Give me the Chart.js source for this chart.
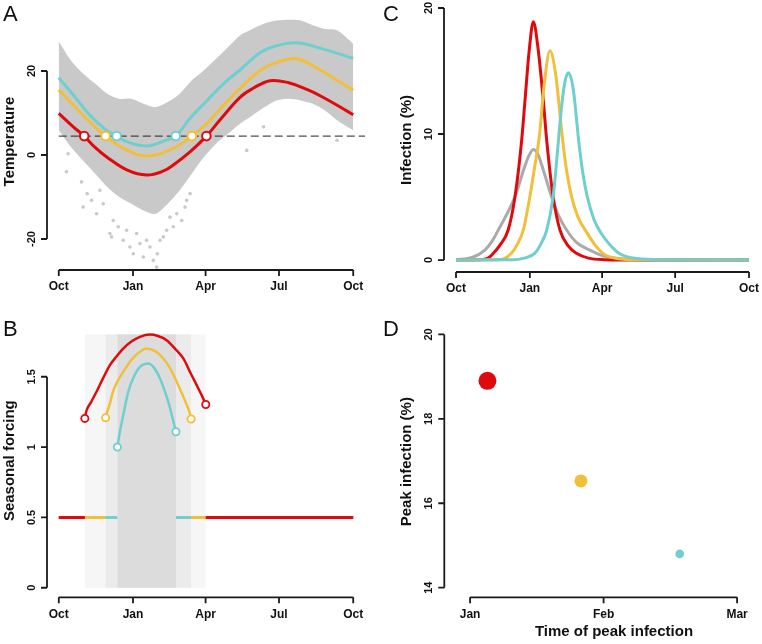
<!DOCTYPE html>
<html>
<head>
<meta charset="utf-8">
<script src="https://cdn.jsdelivr.net/npm/chart.js@4.4.1/dist/chart.umd.min.js"></script>
<style>
html, body { margin: 0; padding: 0; background: #fff; }
#wrap { position: relative; width: 762px; height: 644px; }
#wrap canvas { position: absolute; left: 0; top: 0; }
</style>
</head>
<body>
<div id="wrap">
<canvas id="panelA" width="762" height="644"></canvas>
<canvas id="panelB" width="762" height="644"></canvas>
<canvas id="panelC" width="762" height="644"></canvas>
<canvas id="panelD" width="762" height="644"></canvas>
</div>
<script>
// days are counted from 1 October
var monthTicks = [0, 92, 182, 273, 365];
var monthLabels = ['Oct', 'Jan', 'Apr', 'Jul', 'Oct'];

// A: spread of daily temperatures (dense part) and a few stray days
var cloudDay  = [0, 15, 30, 45, 60, 75, 90, 105, 120, 135, 150, 165, 180, 195, 210, 225, 240, 255, 270, 285, 300, 315, 330, 345, 365];
var cloudHigh = [27, 22.5, 19.4, 17, 14.6, 13.4, 13.4, 12.2, 11.4, 12.6, 14.6, 17.8, 20.2, 22.9, 25.7, 28.5, 30, 31.3, 32, 32.2, 32, 30.9, 30, 29.7, 26.5];
var cloudLow  = [5.9, 1.9, -1.3, -4.4, -7.6, -10, -11.6, -13.2, -14, -11.6, -8.4, -4.4, -0.5, 2.7, 5.1, 7.5, 9.4, 11.4, 13, 13.4, 13, 12.2, 10.6, 8.3, 5.9];
var strayDay  = [9.5, 11.6, 28.2, 30.2, 35.2, 40.6, 46.8, 50.9, 55.1, 63.4, 65.4, 67.5, 73.7, 79.9, 84.1, 88.2, 92.3, 96.5, 100.6, 104.8, 108.9, 113, 117.2, 121.3, 122.2, 125.5, 129.6, 133.7, 137.9, 142, 146.2, 152.4, 156.5, 158.6, 162.7, 233, 253.8, 340.8, 345];
var strayTemp = [-4, 0.3, -6.4, -12.4, -9.2, -10.8, -14, -8.4, -11.6, -18.7, -19.5, -15.6, -17.1, -20.3, -17.9, -21.9, -23.5, -18.7, -21.1, -24.3, -20.3, -21.9, -25.1, -26.7, -23.5, -20.3, -19.5, -17.9, -14.8, -17.1, -14, -15.6, -12.4, -10.8, -9.2, 1.1, 6.7, 9.8, 3.5];

var threshold = 4.5;
var redTempDay = [0, 18, 31.5, 45, 59, 85, 109, 130, 142, 163, 183, 200, 225, 241, 262, 285, 307.6, 328, 353, 365];
var redTemp    = [9.9, 6.7, 4.5, 1.8, -0.4, -3.6, -4.76, -3.8, -2.4, 0.8, 4.5, 8.4, 13.8, 15.9, 17.7, 17.2, 15.6, 13.7, 10.95, 9.6];
var yellowTempDay = [0, 18, 40, 58, 80, 109, 142, 165, 183.5, 205, 225, 250, 270, 295, 328, 345, 365];
var yellowTemp    = [15.5, 11.9, 7.6, 4.5, 1.6, -0.24, 1.6, 4.5, 7.5, 12, 15.9, 20.2, 22, 22.9, 19.8, 17.8, 15.4];
var cyanTempDay = [0, 18, 38.5, 59, 71.7, 84, 109, 134, 145, 163, 183, 205, 225, 250, 270, 295, 328, 365];
var cyanTemp    = [18.4, 14.3, 9.5, 5.9, 4.5, 3.2, 2.14, 3.6, 4.5, 8.8, 12.8, 17.1, 20.3, 24.4, 26, 26.7, 25.2, 23.0];
var redCross = [31.5, 183];
var yellowCross = [58, 165];
var cyanCross = [71.7, 145];

// B: seasonal forcing
var baseForcing = 0.5;
var redWindow = [32.3, 182.2];
var yellowWindow = [58, 164];
var cyanWindow = [72.6, 145.3];
var bandTop = 1.8;
var redArcDay = [32.3, 34.4, 40, 46.8, 55, 63.4, 71, 79.9, 90, 100.6, 113, 123, 133.7, 144, 154.4, 163, 171, 177, 182.2];
var redArc    = [1.204, 1.26, 1.32, 1.393, 1.49, 1.583, 1.64, 1.70, 1.75, 1.784, 1.80, 1.79, 1.76, 1.70, 1.63, 1.53, 1.44, 1.37, 1.303];
var yellowArcDay = [58, 60, 63.4, 67.1, 73, 79.9, 90, 100.6, 108.9, 120, 129.6, 138, 146.2, 152, 158.6, 162, 164];
var yellowArc    = [1.208, 1.25, 1.31, 1.393, 1.47, 1.535, 1.62, 1.677, 1.70, 1.68, 1.63, 1.56, 1.464, 1.39, 1.30, 1.25, 1.2];
var cyanArcDay = [72.6, 74, 75, 80, 86.1, 93, 100.6, 111, 118, 125.5, 130, 135.8, 140, 143, 145.3];
var cyanArc    = [1.0, 1.05, 1.085, 1.23, 1.393, 1.50, 1.571, 1.595, 1.565, 1.488, 1.42, 1.322, 1.23, 1.16, 1.109];

// C: infection curves (%)
var greyInfDay = [0, 20, 36, 45, 52.7, 63, 73.5, 85, 91, 96.3, 102, 107, 119, 128, 137.8, 150, 166.8, 185, 210, 240, 365];
var greyInf    = [0.02, 0.2, 0.79, 1.5, 2.38, 3.6, 5.03, 7.3, 8.3, 8.78, 8.4, 7.5, 5.03, 3.5, 2.38, 1.4, 0.79, 0.3, 0.08, 0.02, 0];
var redInfDay = [0, 30, 40, 46.5, 55, 65, 73.5, 81.8, 86, 91, 96.3, 102, 108.7, 113, 121, 129.5, 140, 150, 165, 185, 220, 365];
var redInf    = [0, 0.02, 0.15, 0.53, 1.2, 2.38, 5.03, 9.5, 12.7, 16.5, 18.9, 16.9, 12.7, 9.5, 5.03, 2.38, 1.1, 0.53, 0.15, 0.03, 0, 0];
var yellowInfDay = [0, 50, 60, 69, 76, 83.8, 92, 98, 103.8, 110, 117, 124, 132.9, 138, 144, 152, 162.8, 172, 183, 200, 230, 365];
var yellowInf    = [0, 0.02, 0.1, 0.53, 1.2, 2.38, 5.03, 7.4, 9.8, 14.0, 16.6, 14.8, 9.5, 7.0, 5.03, 3.4, 2.2, 1.3, 0.53, 0.12, 0.02, 0];
var cyanInfDay = [0, 70, 85, 98, 106, 113, 121, 126, 130, 135, 140, 146, 152.8, 158, 163.5, 172, 181, 192, 204, 225, 260, 365];
var cyanInf    = [0, 0.02, 0.15, 0.53, 1.3, 2.38, 5.03, 8.3, 11.2, 13.9, 14.87, 13.6, 9.5, 6.9, 5.03, 3.2, 2.1, 1.2, 0.5, 0.12, 0.02, 0];

// D: time (months after 1 Jan) and size of the peak
var peakMonth = [0.13, 0.83, 1.57];
var peakValue = [18.9, 16.53, 14.8];
var dotRadius = [9, 6.5, 4.3];

var RED = '#df0a0e', YELLOW = '#f2bf3b', CYAN = '#6fcfcf', GREY = '#aaaaaa', CLOUD = '#c9c9c9';
var FONT = '"Liberation Sans", Arial, Helvetica, sans-serif';

function xy(xs, ys) {
    return xs.map(function (x, i) { return { x: x, y: ys[i] }; });
}

// flat 0.5 line outside a forcing window, with a gap inside it
function flat(win) {
    return [{ x: 0, y: baseForcing }, { x: win[0], y: baseForcing }, { x: (win[0] + win[1]) / 2, y: null },
            { x: win[1], y: baseForcing }, { x: 365, y: baseForcing }];
}

function curve(data, color, width, order, smooth) {
    var ds = { data: data, borderColor: color, borderWidth: width, pointRadius: 0, fill: false, order: order };
    if (smooth) ds.tension = smooth; else ds.cubicInterpolationMode = 'monotone';
    return ds;
}

function ends(data, color, order) {
    var last = data.length - 1;
    return { data: data, borderColor: color, borderWidth: 2.5, cubicInterpolationMode: 'monotone', fill: false, order: order,
             pointRadius: function (c) { return (c.dataIndex === 0 || c.dataIndex === last) ? 3.6 : 0; },
             pointBackgroundColor: '#fff', pointBorderColor: color, pointBorderWidth: 1.8 };
}

function marks(days, color) {
    return { data: days.map(function (d) { return { x: d, y: threshold }; }), showLine: false, order: 1,
             pointRadius: 4.3, pointBackgroundColor: '#fff', pointBorderColor: color, pointBorderWidth: 2 };
}

function baseOptions(pad, xr, yr) {
    return {
        responsive: false, animation: false, devicePixelRatio: 1, events: [],
        layout: { padding: pad },
        plugins: { legend: { display: false }, tooltip: { enabled: false } },
        scales: {
            x: { type: 'linear', min: xr[0], max: xr[1], display: false },
            y: { type: 'linear', min: yr[0], max: yr[1], display: false }
        }
    };
}

// R style axes: line only between first and last tick, rotated y labels
function rAxes(o) {
    return {
        id: 'rAxes',
        afterDraw: function (chart) {
            var ctx = chart.ctx, a = chart.chartArea;
            var sx = chart.scales.x, sy = chart.scales.y;
            var xs = o.xTicks.map(function (v) { return sx.getPixelForValue(v); });
            var ys = o.yTicks.map(function (v) { return sy.getPixelForValue(v); });
            ctx.save();
            ctx.strokeStyle = '#1a1a1a';
            ctx.fillStyle = '#111';
            ctx.lineWidth = 1.8;
            ctx.beginPath();
            ctx.moveTo(xs[0], a.bottom); ctx.lineTo(xs[xs.length - 1], a.bottom);
            xs.forEach(function (px) { ctx.moveTo(px, a.bottom); ctx.lineTo(px, a.bottom + 6); });
            ctx.moveTo(a.left, ys[0]); ctx.lineTo(a.left, ys[ys.length - 1]);
            ys.forEach(function (py) { ctx.moveTo(a.left, py); ctx.lineTo(a.left - 6, py); });
            ctx.stroke();

            ctx.textAlign = 'center';
            ctx.textBaseline = 'middle';
            ctx.font = 'bold 12px ' + FONT;
            xs.forEach(function (px, i) { ctx.fillText(o.xLabels[i], px, a.bottom + 17); });
            ctx.font = 'bold 11px ' + FONT;
            ys.forEach(function (py, i) {
                ctx.save(); ctx.translate(a.left - 15, py); ctx.rotate(-Math.PI / 2);
                ctx.fillText(o.yLabels[i], 0, 0); ctx.restore();
            });
            ctx.font = 'bold 15px ' + FONT;
            ctx.save(); ctx.translate(a.left - 37, (a.top + a.bottom) / 2); ctx.rotate(-Math.PI / 2);
            ctx.fillText(o.yTitle, 0, 0); ctx.restore();
            if (o.xTitle) ctx.fillText(o.xTitle, o.xTitleX, a.bottom + 35);

            ctx.textAlign = 'left';
            ctx.textBaseline = 'alphabetic';
            ctx.font = '22px ' + FONT;
            ctx.fillText(o.letter, o.letterX, o.letterY);
            ctx.restore();
        }
    };
}

// Panel A: temperature
new Chart(document.getElementById('panelA'), {
    type: 'line',
    data: {
        datasets: [
            { data: xy(cloudDay, cloudHigh), borderWidth: 0, pointRadius: 0, tension: 0.3, fill: '+1', backgroundColor: CLOUD, order: 20 },
            { data: xy(cloudDay, cloudLow), borderWidth: 0, pointRadius: 0, tension: 0.3, fill: false, order: 20 },
            { data: xy(strayDay, strayTemp), showLine: false, pointRadius: 1.8, pointBorderWidth: 0, pointBackgroundColor: CLOUD, order: 19 },
            { data: [{ x: 0, y: threshold }, { x: 379.6, y: threshold }], borderColor: '#222', borderWidth: 1, borderDash: [8, 4], pointRadius: 0, fill: false, order: 15 },
            curve(xy(redTempDay, redTemp), RED, 3, 5, 0.4),
            curve(xy(yellowTempDay, yellowTemp), YELLOW, 3, 5, 0.4),
            curve(xy(cyanTempDay, cyanTemp), CYAN, 3, 5, 0.4),
            marks(redCross, RED),
            marks(yellowCross, YELLOW),
            marks(cyanCross, CYAN)
        ]
    },
    options: baseOptions({ left: 47, top: 13, right: 397, bottom: 374 }, [-14.6, 379.6], [-27.38, 33.81]),
    plugins: [rAxes({ xTicks: monthTicks, xLabels: monthLabels, yTicks: [-20, 0, 20], yLabels: ['-20', '0', '20'],
                      yTitle: 'Temperature', letter: 'A', letterX: 3, letterY: 21 })]
});

// Panel B: seasonal forcing
new Chart(document.getElementById('panelB'), {
    type: 'line',
    data: {
        datasets: [
            { data: [{ x: redWindow[0], y: bandTop }, { x: redWindow[1], y: bandTop }], borderWidth: 0, pointRadius: 0, fill: 'origin', backgroundColor: '#f6f6f6', order: 30 },
            { data: [{ x: yellowWindow[0], y: bandTop }, { x: yellowWindow[1], y: bandTop }], borderWidth: 0, pointRadius: 0, fill: 'origin', backgroundColor: '#ebebeb', order: 29 },
            { data: [{ x: cyanWindow[0], y: bandTop }, { x: cyanWindow[1], y: bandTop }], borderWidth: 0, pointRadius: 0, fill: 'origin', backgroundColor: '#dcdcdc', order: 28 },
            { data: flat(cyanWindow), borderColor: CYAN, borderWidth: 3, pointRadius: 0, fill: false, order: 12 },
            { data: flat(yellowWindow), borderColor: YELLOW, borderWidth: 3, pointRadius: 0, fill: false, order: 11 },
            { data: flat(redWindow), borderColor: RED, borderWidth: 3, pointRadius: 0, fill: false, order: 10 },
            ends(xy(redArcDay, redArc), RED, 3),
            ends(xy(yellowArcDay, yellowArc), YELLOW, 3),
            ends(xy(cyanArcDay, cyanArc), CYAN, 3)
        ]
    },
    options: baseOptions({ left: 47, top: 324, right: 397, bottom: 46.7 }, [-14.6, 379.6], [-0.068, 1.875]),
    plugins: [rAxes({ xTicks: monthTicks, xLabels: monthLabels, yTicks: [0, 0.5, 1, 1.5], yLabels: ['0', '0.5', '1', '1.5'],
                      yTitle: 'Seasonal forcing', letter: 'B', letterX: 3, letterY: 336 })]
});

// Panel C: infection curves
new Chart(document.getElementById('panelC'), {
    type: 'line',
    data: {
        datasets: [
            curve(xy(greyInfDay, greyInf), GREY, 3, 9),
            curve(xy(redInfDay, redInf), RED, 3, 8),
            curve(xy(yellowInfDay, yellowInf), YELLOW, 3, 7),
            curve(xy(cyanInfDay, cyanInf), CYAN, 3, 6)
        ]
    },
    options: baseOptions({ left: 444, top: 8, right: 1, bottom: 372 }, [-14.95, 379.95], [-0.95, 20]),
    plugins: [rAxes({ xTicks: monthTicks, xLabels: monthLabels, yTicks: [0, 10, 20], yLabels: ['0', '10', '20'],
                      yTitle: 'Infection (%)', letter: 'C', letterX: 383, letterY: 21 })]
});

// Panel D: peak size against peak time
new Chart(document.getElementById('panelD'), {
    type: 'line',
    data: {
        datasets: [{
            data: xy(peakMonth, peakValue), showLine: false,
            pointRadius: dotRadius, pointBorderWidth: 0,
            pointBackgroundColor: [RED, YELLOW, CYAN]
        }]
    },
    options: baseOptions({ left: 444.3, top: 326, right: 6, bottom: 46.7 }, [-0.193, 2.119], [13.772, 20.2]),
    plugins: [rAxes({ xTicks: [0, 1, 2], xLabels: ['Jan', 'Feb', 'Mar'], yTicks: [14, 16, 18, 20], yLabels: ['14', '16', '18', '20'],
                      yTitle: 'Peak infection (%)', xTitle: 'Time of peak infection', xTitleX: 614,
                      letter: 'D', letterX: 383, letterY: 336 })]
});
</script>
</body>
</html>
